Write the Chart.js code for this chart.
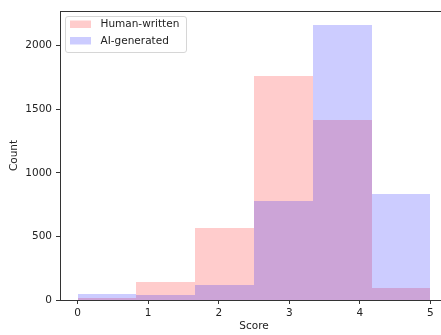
<!DOCTYPE html>
<html><head><meta charset="utf-8">
<script src="https://cdn.jsdelivr.net/npm/chart.js@4/dist/chart.umd.min.js"></script>
<style>
html,body{margin:0;padding:0;background:#fff;overflow:hidden;width:441px;height:335px}
#wrap{width:441px;height:335px;position:relative;overflow:hidden}
#c{display:block;width:448px;height:335px;max-width:none}
</style></head><body><div id="wrap"><canvas id="c" width="448" height="335"></canvas></div>
<script>
// Histogram bin edges (Score)
const binEdges = [0, 0.8333, 1.6667, 2.5, 3.3333, 4.1667, 5];
// Counts per bin
const humanWritten = [18, 139, 565, 1765, 1415, 92];
const aiGenerated = [47, 40, 120, 782, 2165, 837];
const xTicks = [0, 1, 2, 3, 4, 5];
const yTicks = [0, 500, 1000, 1500, 2000];
const seriesLabels = ['Human-written', 'AI-generated'];

const FONT = 'DejaVu Sans';
const centers = binEdges.slice(0, -1).map((e, i) => (e + binEdges[i + 1]) / 2);
const toPts = arr => arr.map((v, i) => ({ x: centers[i], y: v }));

const colors = ['rgba(255,0,0,0.2)', 'rgba(0,0,255,0.2)'];

// snap each bar to its bin edges (pixel positions from the x scale) so adjacent bins don't overlap
const binSnapPlugin = {
  id: 'binSnap',
  afterDatasetsUpdate(chart) {
    const xs = chart.scales.x;
    chart.data.datasets.forEach((ds, di) => {
      const meta = chart.getDatasetMeta(di);
      meta.data.forEach((el, i) => {
        const l = Math.round(xs.getPixelForValue(binEdges[i]));
        const r = Math.round(xs.getPixelForValue(binEdges[i + 1]));
        el.x = (l + r) / 2;
        el.width = r - l;
        el.y = Math.round(el.y);
        el.base = Math.round(el.base);
      });
    });
  }
};

const framePlugin = {
  id: 'frame',
  afterDatasetsDraw(chart) {
    const { ctx, chartArea: a } = chart;
    ctx.save();
    ctx.strokeStyle = '#333';
    ctx.lineWidth = 1;
    ctx.beginPath();
    ctx.moveTo(a.left + 0.5, a.top);
    ctx.lineTo(a.left + 0.5, a.bottom + 1);
    ctx.moveTo(a.left, a.bottom + 0.5);
    ctx.lineTo(a.right, a.bottom + 0.5);
    ctx.moveTo(a.left, a.top + 0.5);
    ctx.lineTo(a.right, a.top + 0.5);
    ctx.stroke();
    ctx.restore();
  }
};

const legendPlugin = {
  id: 'mplLegend',
  afterDraw(chart) {
    const { ctx, chartArea: a } = chart;
    const x0 = a.left + 5.5, y0 = a.top + 5.5, w = 121, h = 36, r = 2.5;
    ctx.save();
    ctx.beginPath();
    ctx.moveTo(x0 + r, y0);
    ctx.lineTo(x0 + w - r, y0);
    ctx.quadraticCurveTo(x0 + w, y0, x0 + w, y0 + r);
    ctx.lineTo(x0 + w, y0 + h - r);
    ctx.quadraticCurveTo(x0 + w, y0 + h, x0 + w - r, y0 + h);
    ctx.lineTo(x0 + r, y0 + h);
    ctx.quadraticCurveTo(x0, y0 + h, x0, y0 + h - r);
    ctx.lineTo(x0, y0 + r);
    ctx.quadraticCurveTo(x0, y0, x0 + r, y0);
    ctx.closePath();
    ctx.fillStyle = 'rgba(255,255,255,0.8)';
    ctx.fill();
    ctx.strokeStyle = '#d6d6d6';
    ctx.lineWidth = 1;
    ctx.stroke();
    ctx.font = '10.5px "' + FONT + '"';
    ctx.textBaseline = 'middle';
    ctx.textAlign = 'left';
    const rows = [24.5, 41];
    seriesLabels.forEach((lab, i) => {
      ctx.fillStyle = colors[i];
      ctx.fillRect(a.left + 10, rows[i] - 4, 21, 7.5);
      ctx.fillStyle = '#222';
      ctx.fillText(lab, a.left + 40.5, rows[i]);
    });
    ctx.restore();
  }
};

new Chart(document.getElementById('c'), {
  type: 'bar',
  data: {
    datasets: [
      { label: seriesLabels[0], data: toPts(humanWritten), backgroundColor: colors[0], borderWidth: 0, order: 2,
        barPercentage: 1, categoryPercentage: 1, grouped: false, inflateAmount: 0 },
      { label: seriesLabels[1], data: toPts(aiGenerated), backgroundColor: colors[1], borderWidth: 0, order: 1,
        barPercentage: 1, categoryPercentage: 1, grouped: false, inflateAmount: 0 }
    ]
  },
  options: {
    responsive: false,
    devicePixelRatio: 1,
    animation: false,
    layout: { padding: { top: 11, right: 0, left: 0, bottom: 0 } },
    plugins: { legend: { display: false }, tooltip: { enabled: false } },
    scales: {
      x: {
        type: 'linear', min: -0.25, max: 5.25, offset: false,
        afterBuildTicks: s => { s.ticks = xTicks.map(v => ({ value: v })); },
        afterFit: s => { s.height = 35; },
        grid: { offset: false, drawOnChartArea: false, drawTicks: true, tickLength: 4, tickColor: '#333', tickWidth: 1 },
        border: { display: false },
        ticks: { font: { family: FONT, size: 10.5 }, color: '#222', padding: 3, maxRotation: 0, autoSkip: false,
                 callback: v => String(v) },
        title: { display: true, text: 'Score', font: { family: FONT, size: 10.5 }, color: '#222', padding: { top: 0, bottom: 2 } }
      },
      y: {
        min: 0, max: 2273,
        afterBuildTicks: s => { s.ticks = yTicks.map(v => ({ value: v })); },
        afterFit: s => { s.width = 60; },
        grid: { offset: false, drawOnChartArea: false, drawTicks: true, tickLength: 4, tickColor: '#333', tickWidth: 1 },
        border: { display: false },
        ticks: { font: { family: FONT, size: 10.5 }, color: '#222', padding: 4, callback: v => String(v) },
        title: { display: true, text: 'Count', font: { family: FONT, size: 10.5 }, color: '#222', padding: { top: 8, bottom: 0 } }
      }
    }
  },
  plugins: [binSnapPlugin, framePlugin, legendPlugin]
});
</script></body></html>
